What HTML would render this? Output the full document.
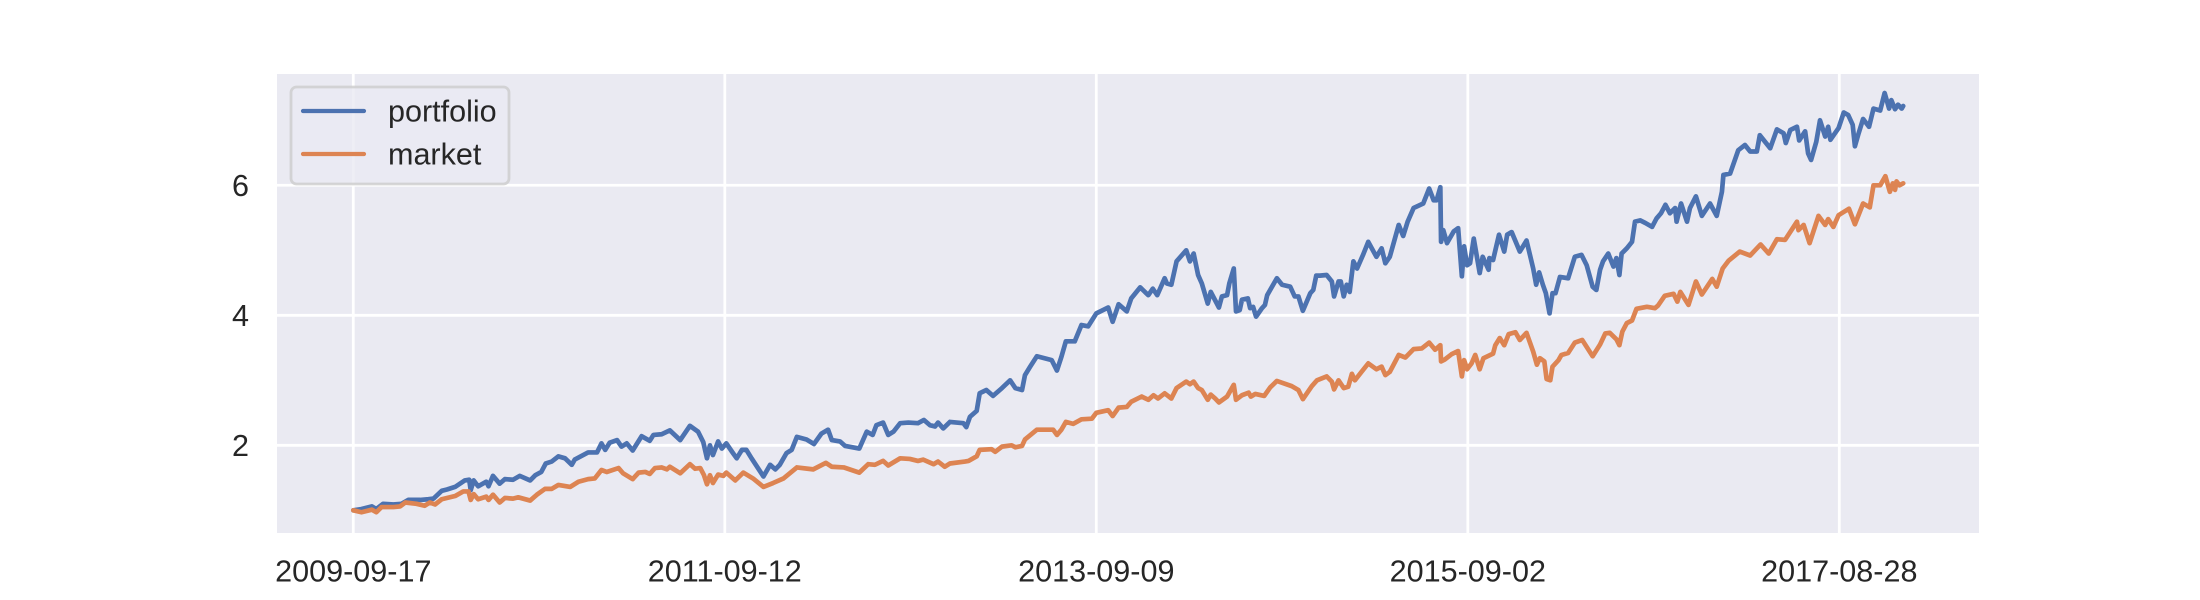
<!DOCTYPE html>
<html lang="en">
<head>
<meta charset="utf-8">
<title>Portfolio vs market cumulative return</title>
<style>
  html, body { margin: 0; padding: 0; background: #ffffff; }
  svg { display: block; }
  text { font-family: "Liberation Sans", Arial, sans-serif; font-size: 30.56px; fill: #262626; }
</style>
</head>
<body>
<svg id="chart" xmlns="http://www.w3.org/2000/svg" width="2200" height="600" viewBox="0 0 2200 600">
  <rect x="277" y="74" width="1702" height="459" fill="#EAEAF2"></rect>
  <g id="grid"></g>
  <g id="x-axis"></g>
  <g id="y-axis"></g>
  <g id="series"></g>
  <g>
    <rect x="291" y="87" width="218" height="97" rx="5.5" ry="5.5" fill="#EAEAF2" fill-opacity="0.8" stroke="#CCCCCC" stroke-opacity="0.8" stroke-width="2.78"></rect>
    <line x1="303" y1="111" x2="364" y2="111" stroke="#4C72B0" stroke-width="4.17" stroke-linecap="round"></line>
    <text x="388" y="121.7">portfolio</text>
    <line x1="303" y1="154" x2="364" y2="154" stroke="#DD8452" stroke-width="4.17" stroke-linecap="round"></line>
    <text x="388" y="164.7">market</text>
  </g>
</svg>
<script>
const xTickDays = [0, 500, 1000, 1500, 2000];
const xTickLabels = ["2009-09-17", "2011-09-12", "2013-09-09", "2015-09-02", "2017-08-28"];
const yTickValues = [2, 4, 6];
const yTickLabels = ["2", "4", "6"];

const portfolioDays = [0,11,25,31,40,54,65,74,90,101,108,119,126,137,150,156,158,162,168,179,182,188,197,204,215,224,238,245,253,259,267,276,285,294,298,316,328,334,339,345,355,361,368,376,388,399,404,415,426,440,453,464,471,476,480,484,491,496,502,511,516,523,529,536,552,561,568,574,583,590,597,610,620,630,639,644,655,662,681,691,699,704,713,720,727,736,747,760,768,776,783,787,794,803,821,825,830,839,843,852,861,873,884,891,900,904,911,920,940,947,953,959,971,980,989,1000,1016,1022,1030,1041,1047,1059,1070,1076,1082,1092,1095,1101,1108,1121,1126,1131,1137,1142,1150,1154,1165,1169,1176,1179,1185,1188,1193,1196,1204,1207,1211,1215,1223,1227,1230,1243,1250,1261,1267,1272,1278,1288,1292,1296,1301,1310,1317,1320,1326,1329,1333,1337,1341,1346,1351,1359,1366,1377,1384,1389,1395,1407,1413,1419,1427,1440,1448,1454,1458,1463,1464,1467,1472,1481,1487,1492,1495,1499,1503,1508,1516,1520,1528,1529,1534,1542,1549,1553,1559,1570,1579,1588,1592,1596,1601,1605,1610,1614,1618,1624,1635,1644,1653,1660,1668,1673,1678,1682,1689,1696,1700,1704,1707,1714,1721,1725,1732,1739,1748,1754,1760,1766,1772,1779,1781,1787,1795,1799,1807,1815,1826,1835,1842,1844,1853,1864,1873,1880,1889,1893,1907,1916,1925,1928,1934,1943,1946,1954,1958,1962,1969,1974,1981,1985,1988,1999,2006,2012,2018,2021,2026,2032,2040,2046,2055,2061,2067,2070,2075,2079,2084,2086];
const portfolioValues = [1.00,1.02,1.06,1.02,1.10,1.09,1.10,1.16,1.16,1.17,1.18,1.30,1.32,1.36,1.46,1.47,1.31,1.46,1.37,1.44,1.37,1.53,1.41,1.48,1.47,1.53,1.46,1.54,1.59,1.72,1.75,1.83,1.80,1.70,1.78,1.89,1.89,2.03,1.93,2.04,2.08,1.98,2.03,1.92,2.14,2.07,2.16,2.17,2.23,2.08,2.30,2.21,2.05,1.80,2.00,1.85,2.06,1.95,2.03,1.88,1.80,1.93,1.93,1.80,1.52,1.70,1.63,1.70,1.88,1.93,2.13,2.09,2.02,2.18,2.24,2.08,2.06,1.99,1.95,2.21,2.16,2.31,2.35,2.16,2.21,2.34,2.35,2.34,2.39,2.31,2.29,2.35,2.26,2.36,2.34,2.28,2.44,2.53,2.80,2.85,2.76,2.88,3.00,2.88,2.85,3.08,3.21,3.37,3.31,3.15,3.36,3.60,3.60,3.85,3.83,4.03,4.12,3.90,4.17,4.06,4.26,4.43,4.31,4.41,4.31,4.57,4.49,4.47,4.83,5.00,4.83,4.95,4.62,4.49,4.18,4.36,4.12,4.29,4.31,4.49,4.72,4.06,4.08,4.24,4.26,4.11,4.13,3.98,4.11,4.16,4.31,4.57,4.47,4.44,4.29,4.29,4.07,4.34,4.39,4.61,4.61,4.62,4.52,4.29,4.52,4.52,4.29,4.47,4.36,4.83,4.72,4.93,5.13,4.90,5.03,4.80,4.90,5.39,5.22,5.44,5.65,5.72,5.95,5.77,5.77,5.97,5.13,5.31,5.11,5.29,5.34,4.60,5.06,4.77,4.80,5.18,4.65,4.90,4.70,4.88,4.85,5.24,4.98,5.24,5.28,4.98,5.15,4.72,4.47,4.66,4.47,4.34,4.03,4.34,4.34,4.59,4.57,4.90,4.93,4.77,4.44,4.39,4.70,4.83,4.95,4.75,4.88,4.62,4.95,5.03,5.13,5.44,5.46,5.42,5.36,5.49,5.57,5.70,5.57,5.65,5.44,5.72,5.44,5.65,5.83,5.53,5.72,5.53,5.90,6.16,6.18,6.54,6.62,6.52,6.52,6.77,6.57,6.86,6.80,6.65,6.85,6.90,6.69,6.83,6.49,6.39,6.67,7.00,6.75,6.90,6.70,6.88,7.12,7.08,6.93,6.60,6.80,7.02,6.90,7.18,7.15,7.42,7.18,7.31,7.17,7.24,7.18,7.22];

const marketDays = [0,11,25,31,38,54,63,70,85,96,103,110,119,137,148,155,158,162,168,179,182,188,197,204,215,222,238,247,258,267,276,292,303,316,325,334,341,357,363,376,384,393,399,406,415,422,426,440,453,460,467,472,476,480,484,491,498,502,514,525,538,552,565,579,597,619,636,644,660,681,693,702,713,720,736,749,760,767,781,787,796,803,823,828,839,843,859,864,873,886,891,900,904,920,942,947,953,959,969,980,994,1000,1016,1022,1030,1041,1047,1061,1070,1077,1083,1092,1101,1108,1121,1126,1131,1137,1142,1150,1154,1160,1165,1176,1180,1185,1188,1196,1205,1208,1214,1226,1234,1243,1263,1272,1278,1290,1297,1310,1317,1320,1326,1333,1339,1344,1348,1357,1366,1377,1384,1389,1395,1407,1416,1427,1438,1448,1456,1463,1464,1469,1478,1487,1492,1495,1499,1505,1510,1516,1521,1534,1537,1543,1549,1555,1564,1570,1579,1588,1593,1597,1603,1606,1611,1614,1622,1626,1635,1644,1654,1668,1678,1685,1691,1700,1704,1708,1714,1721,1727,1741,1752,1756,1765,1777,1782,1786,1797,1807,1815,1829,1835,1843,1851,1866,1880,1894,1905,1916,1927,1943,1945,1952,1960,1972,1981,1985,1992,1999,2013,2021,2032,2041,2046,2055,2062,2068,2072,2075,2077,2081,2086];
const marketValues = [1.00,0.97,1.01,0.97,1.05,1.05,1.06,1.12,1.10,1.07,1.12,1.09,1.17,1.22,1.29,1.29,1.16,1.25,1.17,1.21,1.16,1.24,1.12,1.19,1.18,1.20,1.15,1.24,1.33,1.33,1.39,1.36,1.44,1.48,1.49,1.62,1.59,1.65,1.57,1.48,1.58,1.59,1.56,1.65,1.66,1.63,1.67,1.57,1.71,1.64,1.65,1.54,1.40,1.54,1.42,1.55,1.53,1.58,1.46,1.58,1.49,1.36,1.42,1.49,1.66,1.63,1.73,1.67,1.66,1.58,1.71,1.70,1.76,1.69,1.80,1.79,1.76,1.78,1.71,1.75,1.67,1.72,1.75,1.76,1.83,1.93,1.94,1.90,1.98,2.00,1.97,1.99,2.09,2.24,2.24,2.16,2.24,2.36,2.33,2.40,2.41,2.50,2.54,2.45,2.58,2.59,2.67,2.75,2.70,2.77,2.72,2.80,2.72,2.88,2.98,2.94,2.98,2.88,2.85,2.70,2.78,2.72,2.66,2.75,2.83,2.93,2.70,2.77,2.81,2.75,2.79,2.76,2.89,2.99,2.91,2.85,2.71,2.91,3.00,3.06,2.98,2.86,3.00,2.88,2.90,3.10,3.00,3.13,3.26,3.17,3.21,3.08,3.13,3.39,3.35,3.48,3.49,3.58,3.47,3.54,3.29,3.32,3.40,3.45,3.06,3.31,3.17,3.26,3.39,3.17,3.34,3.41,3.54,3.65,3.54,3.71,3.74,3.62,3.73,3.44,3.24,3.34,3.29,3.02,3.00,3.21,3.31,3.39,3.42,3.58,3.62,3.37,3.55,3.72,3.73,3.63,3.54,3.75,3.88,3.92,4.10,4.13,4.11,4.15,4.30,4.33,4.21,4.36,4.16,4.52,4.32,4.56,4.44,4.72,4.84,4.98,4.92,5.09,4.95,5.17,5.16,5.44,5.31,5.39,5.11,5.53,5.39,5.48,5.36,5.54,5.64,5.40,5.72,5.66,6.00,6.00,6.14,5.90,6.03,5.93,6.06,6.00,6.03];

const plotLeft = 277, plotRight = 1979, plotTop = 74, plotBottom = 533;
const dayMin = -102.7, dayMax = 2188;
const valueMin = 0.651, valueMax = 7.712;
const SVG_NS = "http://www.w3.org/2000/svg";

function xScale(day) {
  return plotLeft + (day - dayMin) / (dayMax - dayMin) * (plotRight - plotLeft);
}
function yScale(value) {
  return plotBottom - (value - valueMin) / (valueMax - valueMin) * (plotBottom - plotTop);
}
function make(tag, parent, attrs) {
  const el = document.createElementNS(SVG_NS, tag);
  for (const key in attrs) el.setAttribute(key, attrs[key]);
  parent.appendChild(el);
  return el;
}

const gridGroup = document.getElementById("grid");
const xAxisGroup = document.getElementById("x-axis");
const yAxisGroup = document.getElementById("y-axis");
const seriesGroup = document.getElementById("series");

xTickDays.forEach(function (day, i) {
  const line = make("line", gridGroup, { x1: xScale(day), x2: xScale(day), y1: plotTop, y2: plotBottom, stroke: "#FFFFFF", "stroke-width": 2.78 });
  
  
  const label = make("text", xAxisGroup, { x: xScale(day), y: 581.7, "text-anchor": "middle" });
  label.textContent = xTickLabels[i];
  
  
});

yTickValues.forEach(function (value, i) {
  const line = make("line", gridGroup, { x1: plotLeft, x2: plotRight, y1: yScale(value), y2: yScale(value), stroke: "#FFFFFF", "stroke-width": 2.78 });
  
  
  const label = make("text", yAxisGroup, { x: 249, y: yScale(value) + 10.7, "text-anchor": "end" });
  label.textContent = yTickLabels[i];
  
  
});

function pointString(days, values) {
  return days.map(function (day, i) {
    return xScale(day).toFixed(2) + "," + yScale(values[i]).toFixed(2);
  }).join(" ");
}

const portfolioLine = make("polyline", seriesGroup, { points: pointString(portfolioDays, portfolioValues), fill: "none", stroke: "#4C72B0", "stroke-width": 4.7, "stroke-linejoin": "round", "stroke-linecap": "round" });



const marketLine = make("polyline", seriesGroup, { points: pointString(marketDays, marketValues), fill: "none", stroke: "#DD8452", "stroke-width": 4.7, "stroke-linejoin": "round", "stroke-linecap": "round" });


</script>
</body>
</html>
